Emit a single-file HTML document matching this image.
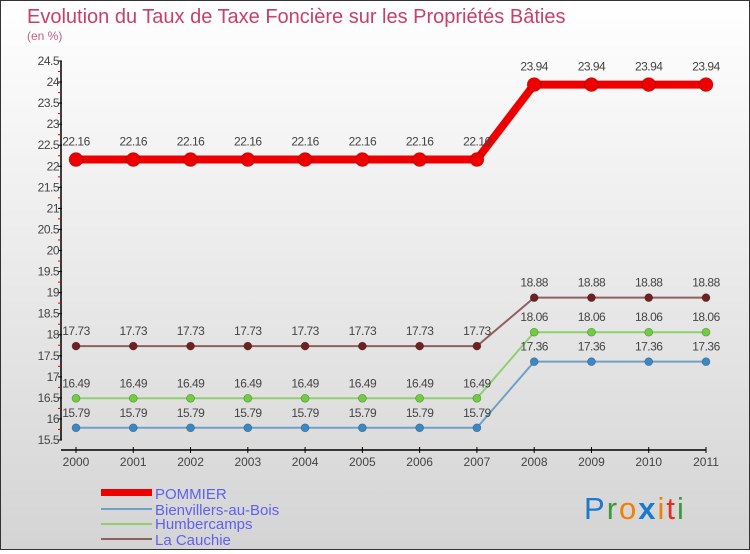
<!DOCTYPE html>
<html><head><meta charset="utf-8"><style>
body{margin:0;}
#c{width:748px;height:548px;border:1px solid #333;background:linear-gradient(#ffffff,#d4d4d4);position:relative;font-family:"Liberation Sans",sans-serif;}
</style></head><body>
<div id="c">
<svg id="s" width="748" height="548" xmlns="http://www.w3.org/2000/svg">
<text x="26" y="22" font-size="20" fill="#c8406a">Evolution du Taux de Taxe Foncière sur les Propriétés Bâties</text>
<text x="26" y="39" font-size="12" fill="#c06080">(en %)</text>
<g id="axes"></g><g id="series"></g><g id="labels"></g>
<g>
<rect x="100" y="488" width="51" height="7" fill="#ee0000"/>
<text x="154" y="498" font-size="15" fill="#6060ee">POMMIER</text>
<rect x="100" y="507" width="51" height="2" fill="#70a0c8"/>
<text x="154" y="514" font-size="15" fill="#6060ee">Bienvillers-au-Bois</text>
<rect x="100" y="522" width="51" height="2" fill="#90d070"/>
<text x="154" y="528" font-size="15" fill="#6060ee">Humbercamps</text>
<rect x="100" y="537" width="51" height="2" fill="#906060"/>
<text x="154" y="544" font-size="15" fill="#6060ee">La Cauchie</text>
</g>
<g font-size="31" font-family="Liberation Sans, sans-serif" letter-spacing="2">
<text x="583" y="518"><tspan fill="#1a7ad0">P</tspan><tspan fill="#3a9a3a">r</tspan><tspan fill="#f08000">o</tspan><tspan fill="#1a7ad0" font-weight="bold">x</tspan><tspan fill="#f08000">i</tspan><tspan fill="#e03020">t</tspan><tspan fill="#3a9a3a">i</tspan></text>
</g>
</svg></div>
<script>
const years=[2000,2001,2002,2003,2004,2005,2006,2007,2008,2009,2010,2011];
const pommier=[22.16,22.16,22.16,22.16,22.16,22.16,22.16,22.16,23.94,23.94,23.94,23.94];
const bienvillers=[15.79,15.79,15.79,15.79,15.79,15.79,15.79,15.79,17.36,17.36,17.36,17.36];
const humbercamps=[16.49,16.49,16.49,16.49,16.49,16.49,16.49,16.49,18.06,18.06,18.06,18.06];
const lacauchie=[17.73,17.73,17.73,17.73,17.73,17.73,17.73,17.73,18.88,18.88,18.88,18.88];
const yTicks=[15.5,16,16.5,17,17.5,18,18.5,19,19.5,20,20.5,21,21.5,22,22.5,23,23.5,24,24.5];
const yMin=15.5,yMax=24.5;
const NS="http://www.w3.org/2000/svg";
function X(i){return 75+i*(705-75)/(years.length-1);}
function Y(v){return 60+(yMax-v)*(439-60)/(yMax-yMin);}
function mk(t,a,p){const e=document.createElementNS(NS,t);for(const k in a)e.setAttribute(k,a[k]);p.appendChild(e);return e;}
const ax=document.getElementById('axes');
let e=mk('line',{x1:60,y1:Y(yMax),x2:60,y2:Y(yMin),stroke:'#000','stroke-width':1.5},ax);


e=mk('line',{x1:60,y1:449,x2:705,y2:449,stroke:'#000','stroke-width':1.5},ax);


yTicks.forEach((v,i)=>{
 const y=Y(v);
 let t=mk('line',{x1:57,y1:y,x2:61,y2:y,stroke:'#000'},ax);
 
 
 if(i<yTicks.length-1){let m=mk('line',{x1:57,y1:Y(v+0.25),x2:60,y2:Y(v+0.25),stroke:'#e00000'},ax);
 
 }
 let l=mk('text',{x:58,y:y+4,'font-size':12,'text-anchor':'end',fill:'#444','letter-spacing':'-0.5'},ax);l.textContent=v;
 
 
});
years.forEach((yr,i)=>{
 let t=mk('line',{x1:X(i),y1:446,x2:X(i),y2:452,stroke:'#000'},ax);
 
 
 let l=mk('text',{x:X(i),y:465,'font-size':12,'text-anchor':'middle',fill:'#444'},ax);l.textContent=yr;
 
 
});
const sg=document.getElementById('series'),lg=document.getElementById('labels');
function draw(vals,color,w,r,name,dot){
 const pts=vals.map((v,i)=>X(i)+','+Y(v)).join(' ');
 let p=mk('polyline',{points:pts,fill:'none',stroke:color,'stroke-width':w},sg);
 
 
 vals.forEach((v,i)=>{
  let c=mk('circle',{cx:X(i),cy:Y(v),r:r,fill:dot,stroke:'rgba(0,0,0,0.3)','stroke-width':0.7},sg);
  
  
  let t=mk('text',{x:X(i),y:Y(v)-(r+7),'font-size':12,'text-anchor':'middle',fill:'#444','letter-spacing':'-0.5'},lg);t.textContent=v;
  
  
 });
}
draw(bienvillers,'#70a0c8',2,4,'bienvillers','#3a88c8');
draw(humbercamps,'#90d070',2,4,'humbercamps','#70cc40');
draw(lacauchie,'#906060',2,4,'la-cauchie','#702020');
draw(pommier,'#ee0000',8,7,'pommier','#ee0000');
</script>
</body></html>
